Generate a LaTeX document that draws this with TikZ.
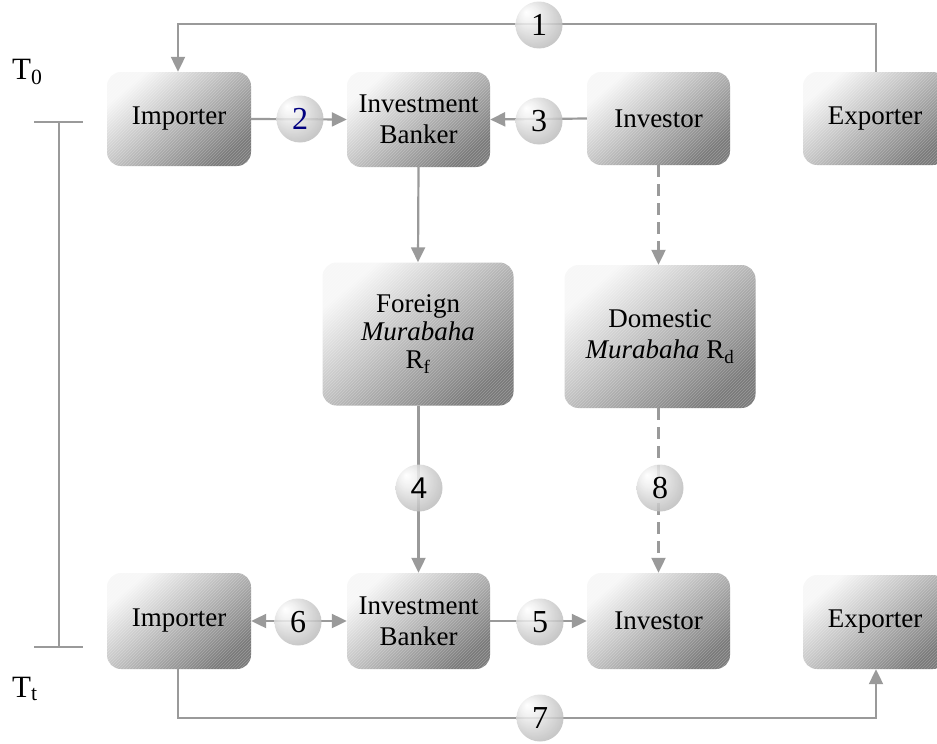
\documentclass[tikz,border=0pt]{standalone}
\usepackage{fontspec}
\setmainfont{Liberation Serif}
\newfontfamily\digitsans{Liberation Sans}
\usetikzlibrary{arrows.meta,patterns,shadings}
\definecolor{linegray}{HTML}{9A9A9A}
\definecolor{navyblue}{HTML}{000080}
\pgfdeclareradialshading{ballshade}{\pgfpoint{-14bp}{14bp}}{%
  color(0bp)=(white); color(10bp)=(black!7); color(30bp)=(black!25); color(50bp)=(black!42)}
\begin{document}
\begin{tikzpicture}[x=1pt,y=-1pt,
  font=\fontsize{27}{31}\selectfont,
  box/.style={rounded corners=14pt, shading=axis, top color=white!97!black,
    bottom color=black!52, shading angle=40, align=center, inner sep=0pt,
    postaction={pattern=north east lines, pattern color=white, opacity=0.25}},
  ball/.style={circle, minimum size=47pt, inner sep=0pt, shading=ballshade,
    opacity=0.85, text opacity=1, font=\fontsize{32}{34}\selectfont},
  conn/.style={draw=linegray, line width=2.2pt, -{Triangle[length=15pt,width=14pt]}},
  dconn/.style={conn, dash pattern=on 12pt off 7pt},
  tl/.style={draw=linegray, line width=2.2pt},
  tlabel/.style={anchor=base west, inner sep=0pt, font=\fontsize{31}{33}\selectfont}
]
\path[use as bounding box] (0,0) rectangle (937,744);
\clip (0,0) rectangle (937,744);

% boxes
\node[box, minimum width=144pt, minimum height=94pt] (imp1) at (179,119) {Importer};
\node[box, minimum width=143pt, minimum height=95pt] (ib1) at (418.5,119.5) {Investment\\Banker};
\node[box, minimum width=143pt, minimum height=93pt] (inv1) at (658.5,118.5) {Investor};
\node[box, minimum width=144pt, minimum height=93pt] (exp1) at (875,118.5) {Exporter};
\node[box, minimum width=191pt, minimum height=143pt, font=\fontsize{27}{28}\selectfont] (for1) at (418,334) {Foreign\\\textit{Murabaha}\\R\textsubscript{f}};
\node[box, minimum width=191pt, minimum height=143pt] (dom1) at (660,336.5) {Domestic\\\textit{Murabaha} R\textsubscript{d}};
\node[box, minimum width=144pt, minimum height=96pt] (imp2) at (179,621) {Importer};
\node[box, minimum width=143pt, minimum height=96pt] (ib2) at (418.5,621) {Investment\\Banker};
\node[box, minimum width=143pt, minimum height=96pt] (inv2) at (658.5,621) {Investor};
\node[box, minimum width=144pt, minimum height=94pt] (exp2) at (875,622) {Exporter};

% coordinates for bends
\coordinate (c1a) at (876,24);
\coordinate (c1b) at (178,24);
\coordinate (c7a) at (178,718);
\coordinate (c7b) at (876,718);

% connectors
\draw[conn] (exp1.north -| c1a) |- (c1b) -- (c1b |- imp1.north);
\draw[conn] (imp1.east) -- (ib1.west);
\draw[conn] (inv1.west) -- (ib1.east);
\draw[conn] (ib1.south) -- (for1.north);
\draw[dconn] (inv1.south) -- (dom1.north -| inv1.south);
\draw[conn] (for1.south -| ib2.north) -- (ib2.north);
\draw[dconn] (dom1.south -| inv2.north) -- (inv2.north);
\draw[conn, {Triangle[length=15pt,width=14pt]}-{Triangle[length=15pt,width=14pt]}] (imp2.east) -- (ib2.west);
\draw[conn] (ib2.east) -- (inv2.west);
\draw[conn] (imp2.south -| c7a) |- (c7b) -- (c7b |- exp2.south);

% numbered balls
\node[ball] (n1) at (539,25) {1};
\node[ball, text=navyblue] (n2) at (300,119) {2};
\node[ball] (n3) at (539,121) {3};
\node[ball, font=\fontsize{30}{32}\digitsans] (n4) at (419,488) {4};
\node[ball] (n8) at (660,488) {8};
\node[ball] (n6) at (298,622) {6};
\node[ball] (n5) at (540,622) {5};
\node[ball] (n7) at (540,718) {7};

% time line
\coordinate (t0a) at (34,122);
\coordinate (t0b) at (83,122);
\coordinate (tta) at (34,647);
\coordinate (ttb) at (83,647);
\coordinate (tm0) at (59,122);
\coordinate (tmt) at (59,647);
\draw[tl] (t0a) -- (t0b);
\draw[tl] (tta) -- (ttb);
\draw[tl] (tm0) -- (tmt);
\node[tlabel] (T0) at (12,79) {T\textsubscript{0}};
\node[tlabel] (Tt) at (12,697) {T\textsubscript{t}};
\end{tikzpicture}
\end{document}
